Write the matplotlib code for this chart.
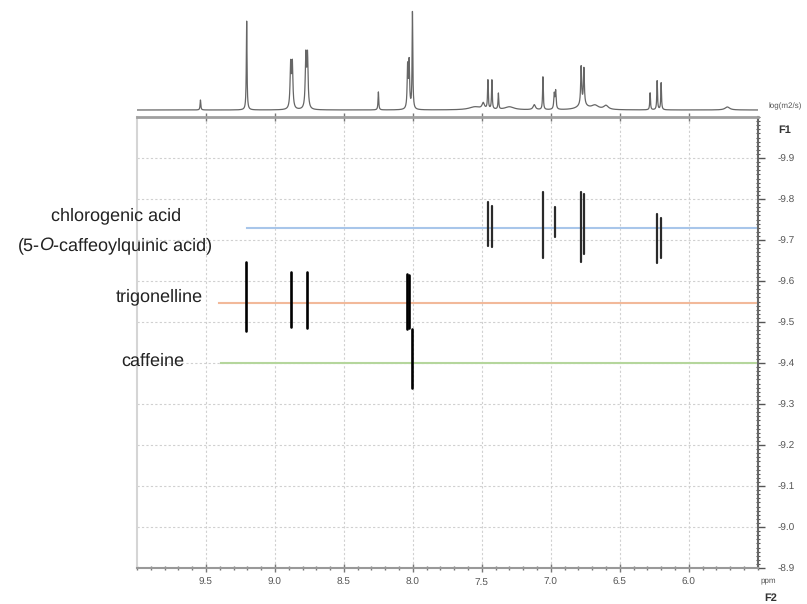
import numpy as np
import matplotlib
matplotlib.use("Agg")
import matplotlib.pyplot as plt
from matplotlib.ticker import MultipleLocator, FixedLocator, FixedFormatter

plt.rcParams['font.family'] = ['Liberation Sans', 'DejaVu Sans']
plt.rcParams['text.hinting'] = 'no_hinting'
plt.rcParams['text.hinting_factor'] = 1

# ---- 1D projection spectrum (peak list: ppm, height, half-width) ----
spec_ppm = [9.54, 9.205, 8.886, 8.874, 8.776, 8.764, 8.25, 8.038, 8.027, 8.003,
            7.55, 7.49, 7.456, 7.427, 7.38, 7.30, 7.12, 7.057, 6.975, 6.965,
            6.78, 6.76, 6.77, 6.68, 6.60, 6.28, 6.229, 6.200, 5.72]
spec_height = [10, 89, 44, 44, 52, 52, 18, 42, 46, 97,
               3, 6, 29, 29, 16, 3, 5, 33, 15, 18,
               38, 36, 5, 4, 4, 17, 29, 27, 3]
spec_width = [0.003, 0.003, 0.005, 0.005, 0.005, 0.005, 0.003, 0.004, 0.004, 0.003,
              0.05, 0.01, 0.003, 0.003, 0.003, 0.04, 0.01, 0.003, 0.004, 0.004,
              0.004, 0.004, 0.04, 0.03, 0.02, 0.003, 0.003, 0.003, 0.02]

# ---- DOSY cross peaks: ppm, logD top, logD bottom ----
peak_ppm = [7.456, 7.427, 7.057, 6.970, 6.781, 6.759, 6.229, 6.200,
            9.211, 8.885, 8.769, 8.041, 8.030, 8.008]
peak_top = [-9.793, -9.783, -9.817, -9.781, -9.817, -9.812, -9.764, -9.754,
            -9.647, -9.623, -9.623, -9.618, -9.615, -9.484]
peak_bot = [-9.686, -9.683, -9.657, -9.708, -9.647, -9.666, -9.645, -9.657,
            -9.479, -9.489, -9.486, -9.484, -9.486, -9.340]

# ---- compound diffusion lines ----
compounds = ['chlorogenic acid', 'trigonelline', 'caffeine']
comp_logD = [-9.73, -9.547, -9.40]
comp_start = [9.204, 9.406, 9.391]
comp_colors = ['#a8c6ea', '#f2b99a', '#b5d69c']

x_major = [9.5, 9.0, 8.5, 8.0, 7.5, 7.0, 6.5, 6.0]
y_major = [-9.9, -9.8, -9.7, -9.6, -9.5, -9.4, -9.3, -9.2, -9.1, -9.0, -8.9]

W, H = 807, 604
fig = plt.figure(figsize=(W / 100, H / 100), dpi=100)
L, R, T, B = 137, 757.7, 117, 568
ax = fig.add_axes([L / W, 1 - B / H, (R - L) / W, (B - T) / H])
axs = fig.add_axes([L / W, 1 - T / H, (R - L) / W, T / H])

# spectrum
xs = np.linspace(10.0, 5.5, 6000)
ys = np.zeros_like(xs)
for p, h, w in zip(spec_ppm, spec_height, spec_width):
    ys += h * w ** 2 / ((xs - p) ** 2 + w ** 2)
axs.plot(xs, ys, color='#666666', lw=0.9)
axs.set_xlim(10.0, 5.5)
axs.set_ylim(-7, 110)
axs.axis('off')

# main DOSY axes
ax.set_xlim(10.0, 5.5)
ax.set_ylim(-8.9, -10.0)

for name, d, s, c in zip(compounds, comp_logD, comp_start, comp_colors):
    ax.plot([s, 5.5], [d, d], color=c, lw=1.5, zorder=2)

ax.vlines(peak_ppm[:8], peak_top[:8], peak_bot[:8], color='#2a2a2a', lw=1.6,
          capstyle='round', zorder=3)
ax.vlines(peak_ppm[8:], peak_top[8:], peak_bot[8:], color='black', lw=1.9,
          capstyle='round', zorder=3)

# grid
for v in x_major:
    ax.axvline(v, color='#d0d0d0', lw=0.8, ls=(0, (2, 2)), zorder=1)
for v in y_major:
    ax.axhline(v, color='#d0d0d0', lw=0.8, ls=(0, (2, 2)), zorder=1)

ax.xaxis.set_major_locator(FixedLocator(x_major))
ax.xaxis.set_major_formatter(FixedFormatter([f"{v:.1f}" for v in x_major]))
ax.xaxis.set_minor_locator(MultipleLocator(0.1))
ax.tick_params(axis='x', which='major', direction='inout', length=6, width=1,
               color='#777777', labelsize=7, labelcolor='#555555', pad=4,
               top=True, bottom=True)
ax.tick_params(axis='x', which='minor', direction='inout', length=2.5, width=1,
               color='#777777', top=False, bottom=True)

ax.yaxis.tick_right()
ax.yaxis.set_major_locator(FixedLocator(y_major))
ax.yaxis.set_major_formatter(FixedFormatter([f"{v:.1f}" for v in y_major]))
ax.yaxis.set_minor_locator(MultipleLocator(0.01))
ax.tick_params(axis='y', which='major', direction='out', length=5, width=1,
               color='#555555', labelsize=7, labelcolor='#555555', pad=9,
               right=True, left=False)
ax.tick_params(axis='y', which='minor', direction='inout', length=3, width=0.8,
               color='#555555', right=True, left=False)

ax.spines['left'].set_color('#d5d5d5')
ax.spines['left'].set_linewidth(1.5)
ax.spines['top'].set_color('#a0a0a0')
ax.spines['top'].set_linewidth(2.0)
ax.spines['bottom'].set_color('#999999')
ax.spines['bottom'].set_linewidth(1.5)
ax.spines['right'].set_color('#666666')
ax.spines['right'].set_linewidth(1.5)

# labels
def fx(x):
    return x / W

def fy(y):
    return 1 - y / H

tk = dict(fontsize=13, color='#222222', ha='center', va='baseline')
fig.text(fx(116), fy(220), 'chlorogenic acid', **tk)
fig.text(fx(159), fy(301), 'trigonelline', **tk)
fig.text(fx(153), fy(366), 'caffeine', **tk)

# second line with italic O, assembled from pieces
renderer = fig.canvas.get_renderer()
pieces = [('(5-', 'normal'), ('O', 'italic'), ('-caffeoylquinic acid)', 'normal')]
objs = []
widths = []
for s, st in pieces:
    t = fig.text(0, fy(250), s, fontsize=13, color='#222222', style=st,
                 ha='left', va='baseline')
    widths.append(t.get_window_extent(renderer).width)
    objs.append(t)
total = sum(widths)
x0 = 115 - total / 2
for t, w in zip(objs, widths):
    t.set_x(fx(x0))
    x0 += w

fig.text(fx(768), fy(106), 'log(m2/s)', fontsize=5.5, color='#555555',
         ha='left', va='center')
fig.text(fx(785), fy(130), 'F1', fontsize=8, fontweight='bold', color='#333333',
         ha='center', va='center')
fig.text(fx(768), fy(580), 'ppm', fontsize=5.5, color='#555555',
         ha='center', va='center')
fig.text(fx(771), fy(598), 'F2', fontsize=8, fontweight='bold', color='#333333',
         ha='center', va='center')

fig.savefig('out.png', dpi=100)
